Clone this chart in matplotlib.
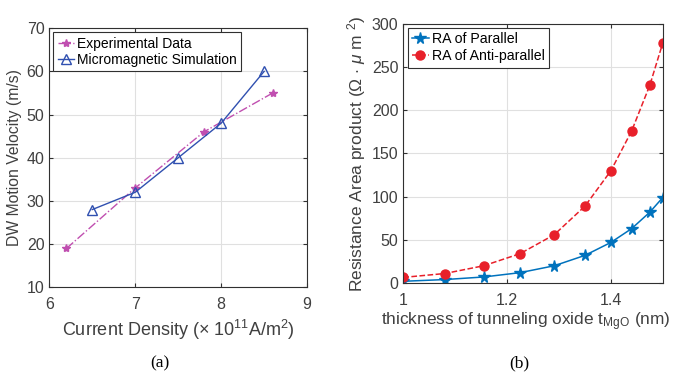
import matplotlib
matplotlib.use('Agg')
import matplotlib.pyplot as plt

plt.rcParams['font.family'] = ['Liberation Sans', 'DejaVu Sans']
plt.rcParams['mathtext.fontset'] = 'custom'
plt.rcParams['mathtext.rm'] = 'Liberation Sans'
plt.rcParams['mathtext.it'] = 'Liberation Sans:italic'

# (a) domain wall velocity
expX = [6.2, 7.0, 7.8, 8.6]
expY = [19, 33, 46, 55]
simX = [6.5, 7.0, 7.5, 8.0, 8.5]
simY = [28, 32, 40, 48, 60]

# (b) RA product vs MgO thickness
tMgO = [1.0, 1.08, 1.155, 1.225, 1.291, 1.35, 1.40, 1.44, 1.475, 1.5]
raP = [2, 4, 7, 12, 20, 32, 47, 63, 82, 99]
raAP = [6.5, 11, 20, 34, 56, 89, 130, 176, 229, 278]

txtCol = '#404040'

def styleAx(ax):
    ax.grid(True, color='#e0e0e0', linewidth=0.8)
    ax.set_axisbelow(True)
    for s in ax.spines.values():
        s.set_color('#303030')
        s.set_linewidth(0.8)
    ax.tick_params(direction='in', top=True, right=True, length=3,
                   colors='#303030', labelcolor=txtCol, labelsize=11.5)
    ax.tick_params(axis='x', pad=7)

def styleLeg(ax, size):
    leg = ax.legend(loc='upper left', fontsize=size, handlelength=1.2,
                    handletextpad=0.2, borderpad=0.3, labelspacing=0.2,
                    borderaxespad=0.3, fancybox=False, framealpha=1)
    leg.get_frame().set_edgecolor('#303030')
    leg.get_frame().set_linewidth(0.8)

fig = plt.figure(figsize=(6.82, 3.76), dpi=100)

ax1 = fig.add_axes([0.0723, 0.236, 0.378, 0.689])
ax1.plot(expX, expY, '-.', marker='*', color='#c04fb0', markersize=6,
         linewidth=1, label='Experimental Data')
ax1.plot(simX, simY, '-', marker='^', color='#3050b0', markersize=6.5,
         markerfacecolor='none', linewidth=1, label='Micromagnetic Simulation')
ax1.set_xlim(6, 9)
ax1.set_ylim(10, 70)
ax1.set_xticks([6, 7, 8, 9])
ax1.set_yticks(range(10, 71, 10))
styleAx(ax1)
ax1.set_xlabel(r'Current Density ($\times$ 10$^{11}$A/m$^2$)', fontsize=13,
               color=txtCol, labelpad=4)
ax1.set_ylabel('DW Motion Velocity (m/s)', fontsize=11.3, color=txtCol, labelpad=3)
styleLeg(ax1, 10)

ax2 = fig.add_axes([0.5914, 0.2473, 0.3804, 0.689])
ax2.plot(tMgO, raP, '-', marker='*', color='#0072BD', markersize=8.5,
         linewidth=1.1, label='RA of Parallel')
ax2.plot(tMgO, raAP, '--', marker='o', color='#e8202a', markersize=6.5,
         linewidth=1.1, label='RA of Anti-parallel')
ax2.set_xlim(1, 1.5)
ax2.set_ylim(0, 300)
ax2.set_xticks([1, 1.2, 1.4])
ax2.set_xticklabels(['1', '1.2', '1.4'])
ax2.set_yticks(range(0, 301, 50))
styleAx(ax2)
ax2.set_xlabel(r'thickness of tunneling oxide t$_{\mathrm{MgO}}$ (nm)', fontsize=12.4,
               color=txtCol, labelpad=2, x=0.47)
ax2.set_ylabel(r'Resistance Area product ($\mathit{\Omega}$ $\cdot$ $\mathit{\mu}$ m $^{2}$)',
               fontsize=12.5, color=txtCol, labelpad=3)
styleLeg(ax2, 10.2)

fig.text(160 / 682, 1 - 363 / 376, '(a)', fontsize=12.5, family='Liberation Serif',
         ha='center', va='center')
fig.text(519 / 682, 1 - 363 / 376, '(b)', fontsize=12.5, family='Liberation Serif',
         ha='center', va='center')

fig.savefig('out.png', dpi=100)
